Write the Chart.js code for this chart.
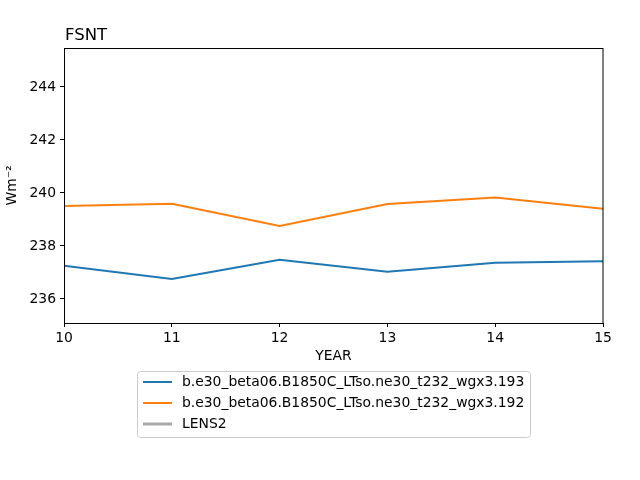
<!DOCTYPE html>
<html>
<head>
<meta charset="utf-8">
<script src="https://cdn.jsdelivr.net/npm/chart.js@4"></script>
<style>
  html, body { margin: 0; padding: 0; background: #fff; }
  #wrap { width: 640px; height: 480px; }
</style>
</head>
<body>
<div id="wrap"><canvas id="fsntChart" width="640" height="480"></canvas></div>
<script>
// FSNT yearly means, two runs + LENS2 (no data shown)
const years = [10, 11, 12, 13, 14, 15];
const run193 = [237.25, 236.75, 237.48, 237.02, 237.36, 237.42];
const run192 = [239.51, 239.59, 238.75, 239.58, 239.83, 239.40];
const lens2 = [];
const yTicks = [236, 238, 240, 242, 244];

const seriesNames = [
    'b.e30_beta06.B1850C_LTso.ne30_t232_wgx3.193',
    'b.e30_beta06.B1850C_LTso.ne30_t232_wgx3.192',
    'LENS2'
];
const seriesColors = ['#1f77b4', '#ff7f0e', '#a9a9a9'];

const FONT = 'DejaVu Sans, sans-serif';
const FS = 13.9;

function toPoints(xs, ys) {
    return ys.map((v, i) => ({ x: xs[i], y: v }));
}

// frame, title and the boxed legend underneath, matplotlib style
const extrasPlugin = {
    id: 'extras',
    afterDraw(chart) {
        const ctx = chart.ctx;
        const a = chart.chartArea;
        ctx.save();
        ctx.strokeStyle = '#000';
        ctx.lineWidth = 1;
        ctx.strokeRect(a.left + 0.5, a.top + 0.5, a.right - a.left - 0.5, a.bottom - a.top);

        ctx.fillStyle = '#000';
        ctx.font = '16.5px ' + FONT;
        ctx.textBaseline = 'alphabetic';
        ctx.textAlign = 'left';
        ctx.fillText('FSNT', a.left + 1, a.top - 8);

        // legend box
        const bx = 137.5, by = 371.5, bw = 393, bh = 66;
        ctx.strokeStyle = '#cccccc';
        ctx.fillStyle = 'rgba(255,255,255,0.8)';
        ctx.beginPath();
        ctx.roundRect(bx, by, bw, bh, 3);
        ctx.fill();
        ctx.stroke();

        ctx.font = FS + 'px ' + FONT;
        ctx.textBaseline = 'middle';
        chart.data.datasets.forEach((ds, i) => {
            const y = 382 + i * 21;
            ctx.strokeStyle = ds.borderColor;
            ctx.lineWidth = i === 2 ? 3 : 2;
            ctx.beginPath();
            ctx.moveTo(143, y);
            ctx.lineTo(172, y);
            ctx.stroke();
            ctx.fillStyle = '#000';
            ctx.fillText(ds.label, 182, y);
        });
        ctx.restore();
    }
};

const ctx = document.getElementById('fsntChart');

new Chart(ctx, {
    type: 'line',
    data: {
        datasets: [
            { label: seriesNames[0], data: toPoints(years, run193), borderColor: seriesColors[0], borderWidth: 2 },
            { label: seriesNames[1], data: toPoints(years, run192), borderColor: seriesColors[1], borderWidth: 2 },
            { label: seriesNames[2], data: lens2, borderColor: seriesColors[2], borderWidth: 2 }
        ]
    },
    options: {
        responsive: false,
        animation: false,
        layout: { padding: { top: 48, right: 37, left: 0, bottom: 115 } },
        elements: {
            point: { radius: 0 },
            line: { tension: 0 }
        },
        plugins: {
            legend: { display: false },
            title: { display: false },
            tooltip: { enabled: false }
        },
        scales: {
            x: {
                type: 'linear',
                min: 10,
                max: 15,
                afterFit: (s) => { s.height = 42; },
                border: { display: true, color: '#000', width: 1 },
                grid: { drawOnChartArea: false, drawTicks: true, tickLength: 4, color: '#000' },
                ticks: {
                    stepSize: 1,
                    color: '#000',
                    padding: 3,
                    maxRotation: 0,
                    font: { family: FONT, size: FS }
                },
                title: {
                    display: true,
                    text: 'YEAR',
                    color: '#000',
                    padding: { top: 0, bottom: 0 },
                    font: { family: FONT, size: FS }
                }
            },
            y: {
                min: 235.09,
                max: 245.47,
                afterFit: (s) => { s.width = 64; },
                afterBuildTicks: (s) => { s.ticks = yTicks.map(v => ({ value: v })); },
                border: { display: true, color: '#000', width: 1 },
                grid: { drawOnChartArea: false, drawTicks: true, tickLength: 4, color: '#000' },
                ticks: {
                    color: '#000',
                    padding: 4,
                    font: { family: FONT, size: FS }
                },
                title: {
                    display: true,
                    text: 'Wm\u207B\u00B2',
                    color: '#000',
                    padding: { bottom: 3 },
                    font: { family: FONT, size: FS }
                }
            }
        }
    },
    plugins: [extrasPlugin]
});
</script>
</body>
</html>
